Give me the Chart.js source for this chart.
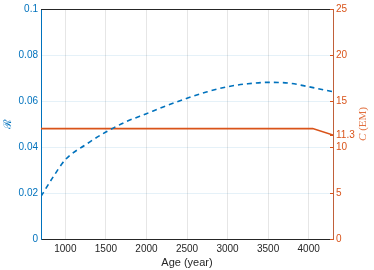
<!DOCTYPE html>
<html>
<head>
<meta charset="utf-8">
<script src="https://cdn.jsdelivr.net/npm/chart.js@4"></script>
<style>
  html, body { margin: 0; padding: 0; background: #fff; }
  #wrap { width: 374px; height: 270px; }
</style>
</head>
<body>
<div id="wrap"><canvas id="myChart"></canvas></div>
<script>
// data
const ages = [700, 850, 1000, 1250, 1500, 1750, 2000, 2250, 2500, 2750, 3000, 3250, 3500, 3750, 4000, 4300]
const rValues = [0.0185, 0.027, 0.0345, 0.041, 0.0465, 0.051, 0.0545, 0.058, 0.0612, 0.064, 0.0662, 0.0675, 0.0681, 0.0678, 0.0662, 0.064]
const cAges = [700, 4050, 4300]
const cValues = [12, 12, 11.3]
const xTicks = [1000, 1500, 2000, 2500, 3000, 3500, 4000]
const rTicks = [0, 0.02, 0.04, 0.06, 0.08, 0.1]
const cTicks = [0, 5, 10, 11.3, 15, 20, 25]

const blue = '#0072BD'
const orange = '#D95319'
const dark = '#262626'
const tickFont = { family: "'Liberation Sans', Arial, sans-serif", size: 10 }
const plain = (v) => String(v)

// top box line, inward ticks on right axis, right axis title
const extras = {
    id: 'extras',
    afterDraw(chart) {
        const { ctx, chartArea: { left, right, top, bottom } } = chart
        ctx.save()
        ctx.strokeStyle = dark
        ctx.lineWidth = 1
        ctx.beginPath()
        ctx.moveTo(left, top + 0.5)
        ctx.lineTo(right, top + 0.5)
        ctx.stroke()

        const s = chart.scales.y2
        ctx.strokeStyle = orange
        cTicks.forEach(v => {
            const y = Math.round(s.getPixelForValue(v)) + 0.5
            ctx.beginPath()
            ctx.moveTo(right - 3, y)
            ctx.lineTo(right, y)
            ctx.stroke()
        })

        // "C (EM)" reading bottom to top
        ctx.translate(363, (top + bottom) / 2)
        ctx.rotate(-Math.PI / 2)
        ctx.fillStyle = '#e2703f'
        ctx.textBaseline = 'middle'
        ctx.font = "italic 11px 'Liberation Serif', serif"
        const w1 = ctx.measureText('C').width
        ctx.font = "11px 'Liberation Serif', serif"
        const w2 = ctx.measureText(' (EM)').width
        const x0 = -(w1 + w2) / 2
        ctx.font = "italic 11px 'Liberation Serif', serif"
        ctx.fillText('C', x0, 0)
        ctx.font = "11px 'Liberation Serif', serif"
        ctx.fillText(' (EM)', x0 + w1, 0)
        ctx.restore()
    }
}

const data = {
    datasets: [{
        label: 'R',
        data: ages.map((a, i) => ({ x: a, y: rValues[i] })),
        yAxisID: 'y',
        borderColor: blue,
        borderWidth: 1.6,
        borderDash: [5, 4],
        cubicInterpolationMode: 'monotone',
        pointRadius: 0,
        fill: false
    },
    {
        label: 'C',
        data: cAges.map((a, i) => ({ x: a, y: cValues[i] })),
        yAxisID: 'y2',
        borderColor: orange,
        borderWidth: 1.6,
        tension: 0,
        pointRadius: 0,
        fill: false
    }]
}

const config = {
    type: 'line',
    data,
    plugins: [extras],
    options: {
        responsive: true,
        maintainAspectRatio: false,
        animation: false,
        layout: { padding: { top: 8, left: 0, right: 0, bottom: 0 } },
        plugins: {
            legend: { display: false },
            tooltip: { enabled: false }
        },
        scales: {
            x: {
                type: 'linear',
                min: 700,
                max: 4300,
                afterBuildTicks: (axis) => { axis.ticks = xTicks.map(v => ({ value: v })) },
                afterFit: (axis) => { axis.height = 31 },
                grid: { color: '#e6e6e6', drawTicks: false },
                border: { color: dark },
                ticks: { color: dark, font: tickFont, padding: 4, autoSkip: false, maxRotation: 0, callback: plain },
                title: {
                    display: true,
                    text: 'Age (year)',
                    color: dark,
                    font: { family: "'Liberation Sans', Arial, sans-serif", size: 11 },
                    padding: { top: 0, bottom: 0 }
                }
            },
            y: {
                position: 'left',
                min: 0,
                max: 0.1,
                afterBuildTicks: (axis) => { axis.ticks = rTicks.map(v => ({ value: v })) },
                afterFit: (axis) => { axis.width = 41 },
                grid: { color: 'rgba(0,114,189,0.10)', drawTicks: false },
                border: { color: blue },
                ticks: { color: blue, font: tickFont, padding: 3, callback: plain },
                title: {
                    display: true,
                    text: 'ℛ',
                    color: blue,
                    font: { family: "'DejaVu Serif', serif", size: 11 },
                    padding: { top: 2, bottom: 0 }
                }
            },
            y2: {
                position: 'right',
                min: 0,
                max: 25,
                afterBuildTicks: (axis) => { axis.ticks = cTicks.map(v => ({ value: v })) },
                afterFit: (axis) => { axis.width = 41 },
                grid: { display: false, drawTicks: false },
                border: { color: '#c0603a' },
                ticks: { color: orange, font: tickFont, padding: 3, autoSkip: false, callback: plain }
            }
        }
    }
}

const myChart = new Chart(document.getElementById('myChart'), config)
</script>
</body>
</html>
